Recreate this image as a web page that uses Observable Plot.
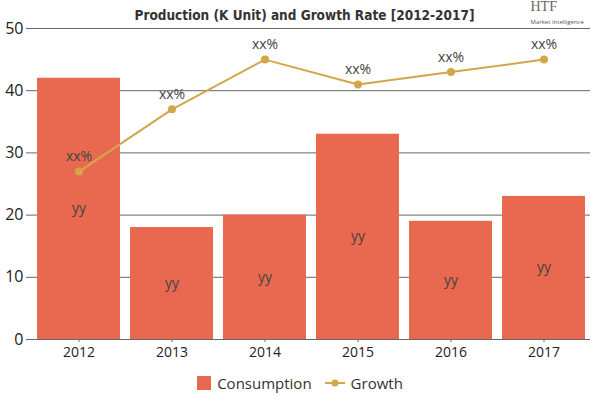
<!DOCTYPE html>
<html>
<head>
<meta charset="utf-8">
<script src="https://cdn.jsdelivr.net/npm/d3@7"></script>
<script src="https://cdn.jsdelivr.net/npm/@observablehq/plot@0.6"></script>
<style>
  body { margin: 0; background: #fff; font-family: "Open Sans", "Noto Sans", sans-serif; }
  #chart { width: 600px; height: 400px; position: relative; }
  .legend { position: absolute; top: 373px; left: 0; width: 600px; text-align: center; font-size: 15px; color: #333; }
  .legend span.item { display: inline-flex; align-items: center; margin: 0 6px; }
  .sw { display: inline-block; width: 14px; height: 14px; background: #E8694F; margin-right: 6px; }
</style>
</head>
<body>
<div id="chart"></div>
<script>
const years = ["2012", "2013", "2014", "2015", "2016", "2017"];
const consumption = [42, 18, 20, 33, 19, 23];
const growth = [27, 37, 45, 41, 43, 45];
const barLabels = ["yy", "yy", "yy", "yy", "yy", "yy"];
const lineLabels = ["xx%", "xx%", "xx%", "xx%", "xx%", "xx%"];
const yTicks = [0, 10, 20, 30, 40, 50];
const titleText = "Production (K Unit) and Growth Rate [2012-2017]";

const barColor = "#E8694F";
const lineColor = "#D4A64A";

const bars = years.map((y, i) => ({year: y, value: consumption[i], label: barLabels[i]}));
const pts = years.map((y, i) => ({year: y, value: growth[i], label: lineLabels[i]}));

const plot = Plot.plot({
  width: 600,
  height: 370,
  marginTop: 28,
  marginLeft: 32,
  marginRight: 10,
  marginBottom: 31,
  style: {fontFamily: "'Open Sans', 'Noto Sans', sans-serif", fontSize: "14px", color: "#222", background: "transparent"},
  x: {domain: years, paddingInner: 0.107, paddingOuter: 0.053, label: null},
  y: {domain: [0, 50], label: null},
  marks: [
    Plot.gridY(yTicks, {stroke: "#666", strokeOpacity: 1, strokeWidth: 1}),
    Plot.barY(bars, {x: "year", y: "value", fill: barColor}),
    Plot.axisY({ticks: yTicks, tickSize: 6, tickPadding: 3, fontSize: 16, stroke: "#666", label: null}),
    Plot.axisX({tickSize: 3, fontSize: 14, stroke: "#666", tickPadding: 5, label: null}),
    Plot.ruleY([0], {stroke: "#666"}),
    Plot.text(bars, {x: "year", y: d => d.value / 2, text: "label", fontSize: 14, fill: "#444"}),
    Plot.line(pts, {x: "year", y: "value", stroke: lineColor, strokeWidth: 2}),
    Plot.dot(pts, {x: "year", y: "value", fill: lineColor, r: 4}),
    Plot.text(pts, {x: "year", y: "value", text: "label", dy: -15, fontSize: 14, fill: "#444"}),
    Plot.text([titleText], {frameAnchor: "top-left", dx: 134 - 32, dy: -18, textAnchor: "start", fontSize: 13.5, fontWeight: "bold", fontFamily: "'DejaVu Sans Condensed', 'Liberation Sans Narrow', sans-serif", fill: "#333"}),
    Plot.text(["HTF"], {frameAnchor: "top-left", dx: 530 - 32, dy: -27, textAnchor: "start", lineAnchor: "top", fontSize: 14, fontFamily: "'Liberation Serif', serif", fill: "#666"}),
    Plot.text(["Market Intelligence"], {frameAnchor: "top-left", dx: 530 - 32, dy: -9, textAnchor: "start", lineAnchor: "top", fontSize: 6, fill: "#555"})
  ]
});
plot.style.position = "absolute";
plot.style.left = "0px";
plot.style.top = "0px";
const chart = document.getElementById("chart");
chart.appendChild(plot);

const legend = document.createElement("div");
legend.className = "legend";
legend.innerHTML =
  `<span class="item"><span class="sw"></span>Consumption</span>` +
  `<span class="item"><svg width="22" height="14" style="margin-right:5px"><line x1="1" y1="7" x2="21" y2="7" stroke="${lineColor}" stroke-width="2"/><circle cx="11" cy="7" r="3.5" fill="${lineColor}"/></svg>Growth</span>`;
chart.appendChild(legend);
</script>
</body>
</html>
